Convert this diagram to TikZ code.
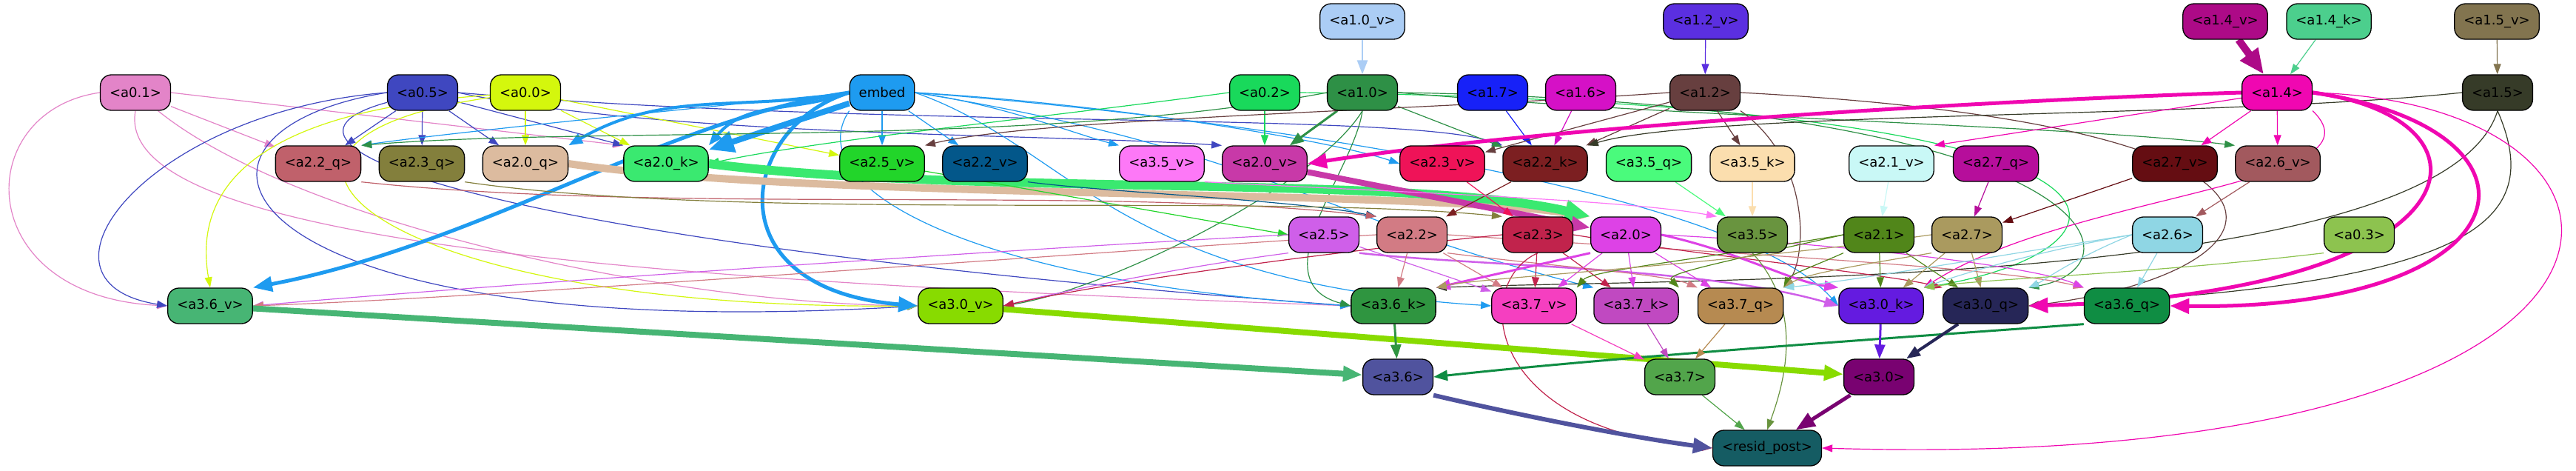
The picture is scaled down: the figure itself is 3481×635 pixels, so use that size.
\documentclass[tikz,border=0pt]{standalone}
\usepackage{fontspec}
\setmainfont{DejaVu Sans}
\usepackage{tikz}
\usetikzlibrary{arrows.meta,backgrounds}
% node fills (edges take the colour of their source)
\definecolor{a10v}{HTML}{ABCDF5}
\definecolor{a12v}{HTML}{5B2FE0}
\definecolor{a14v}{HTML}{AD0A87}
\definecolor{a14k}{HTML}{4CCF8D}
\definecolor{a15v}{HTML}{82744F}
\definecolor{a01}{HTML}{E384C8}
\definecolor{a05}{HTML}{3F47C0}
\definecolor{a00}{HTML}{D4F70D}
\definecolor{embed}{HTML}{1E9BF0}
\definecolor{a02}{HTML}{19D95B}
\definecolor{a10}{HTML}{2E9046}
\definecolor{a17}{HTML}{1721F8}
\definecolor{a16}{HTML}{D511C6}
\definecolor{a12}{HTML}{673F3F}
\definecolor{a14}{HTML}{F007B1}
\definecolor{a15}{HTML}{363B28}
\definecolor{a22q}{HTML}{C0616B}
\definecolor{a23q}{HTML}{837F3C}
\definecolor{a20q}{HTML}{DCBB9F}
\definecolor{a20k}{HTML}{3AE970}
\definecolor{a25v}{HTML}{22D52A}
\definecolor{a22v}{HTML}{03578A}
\definecolor{a35v}{HTML}{FD78F7}
\definecolor{a20v}{HTML}{C839A8}
\definecolor{a23v}{HTML}{EF1358}
\definecolor{a22k}{HTML}{7C1F21}
\definecolor{a35q}{HTML}{4AFB7C}
\definecolor{a35k}{HTML}{FBDEAE}
\definecolor{a21v}{HTML}{C9F8F6}
\definecolor{a27q}{HTML}{B60E9B}
\definecolor{a27v}{HTML}{650D12}
\definecolor{a26v}{HTML}{A2595E}
\definecolor{a25}{HTML}{CF5FE9}
\definecolor{a22}{HTML}{D27B84}
\definecolor{a23}{HTML}{C1234C}
\definecolor{a20}{HTML}{DD42E6}
\definecolor{a35}{HTML}{69943F}
\definecolor{a21}{HTML}{51861A}
\definecolor{a27}{HTML}{AA9A5F}
\definecolor{a26}{HTML}{8FD6E4}
\definecolor{a03}{HTML}{8DC34F}
\definecolor{a36v}{HTML}{47B574}
\definecolor{a30v}{HTML}{88DB00}
\definecolor{a36k}{HTML}{2F9540}
\definecolor{a37v}{HTML}{F53FC0}
\definecolor{a37k}{HTML}{C049C1}
\definecolor{a37q}{HTML}{B68A51}
\definecolor{a30k}{HTML}{641BE0}
\definecolor{a30q}{HTML}{262657}
\definecolor{a36q}{HTML}{0F8D43}
\definecolor{a36}{HTML}{50539E}
\definecolor{a37}{HTML}{52A54B}
\definecolor{a30}{HTML}{790271}
\definecolor{resid}{HTML}{155C63}
\newcommand{\unitfont}{\fontsize{18}{20}\selectfont}
\tikzset{
  unit/.style={draw=black,line width=1.3pt,rounded corners=15pt,
               minimum height=48pt,inner xsep=12.5pt,inner ysep=0pt,font=\unitfont},
  ln/.style={-{Triangle[length=14pt,width=10pt]},line width=1.2pt},
  lnm/.style={-{Triangle[length=19pt,width=14pt]},line width=3pt},
  lnb/.style={-{Triangle[length=26pt,width=20pt]},line width=6pt},
  lnh/.style={-{Triangle[length=34pt,width=28pt]},line width=10pt},
}

\begin{document}
\begin{tikzpicture}[x=1pt,y=1pt]
  \useasboundingbox (0,0) rectangle (3481,-635);

  % row 1
  \node[unit,fill=a10v] (a10v) at (1841,-29) {<a1.0\_v>};
  \node[unit,fill=a12v] (a12v) at (2305,-29) {<a1.2\_v>};
  \node[unit,fill=a14v] (a14v) at (3007,-29) {<a1.4\_v>};
  \node[unit,fill=a14k] (a14k) at (3147,-29) {<a1.4\_k>};
  \node[unit,fill=a15v] (a15v) at (3374,-29) {<a1.5\_v>};
  % row 2
  \node[unit,fill=a01]   (a01)   at (183,-125)  {<a0.1>};
  \node[unit,fill=a05]   (a05)   at (571,-125)  {<a0.5>};
  \node[unit,fill=a00]   (a00)   at (710,-125)  {<a0.0>};
  \node[unit,fill=embed] (embed) at (1192,-125) {embed};
  \node[unit,fill=a02]   (a02)   at (1709,-125) {<a0.2>};
  \node[unit,fill=a10]   (a10)   at (1841,-125) {<a1.0>};
  \node[unit,fill=a17]   (a17)   at (2017,-125) {<a1.7>};
  \node[unit,fill=a16]   (a16)   at (2136,-125) {<a1.6>};
  \node[unit,fill=a12]   (a12)   at (2304,-125) {<a1.2>};
  \node[unit,fill=a14]   (a14)   at (3077,-125) {<a1.4>};
  \node[unit,fill=a15]   (a15)   at (3375,-125) {<a1.5>};
  % row 3
  \node[unit,fill=a22q] (a22q) at (430,-221)  {<a2.2\_q>};
  \node[unit,fill=a23q] (a23q) at (570,-221)  {<a2.3\_q>};
  \node[unit,fill=a20q] (a20q) at (710,-221)  {<a2.0\_q>};
  \node[unit,fill=a20k] (a20k) at (900,-221)  {<a2.0\_k>};
  \node[unit,fill=a25v] (a25v) at (1192,-221) {<a2.5\_v>};
  \node[unit,fill=a22v] (a22v) at (1331,-221) {<a2.2\_v>};
  \node[unit,fill=a35v] (a35v) at (1570,-221) {<a3.5\_v>};
  \node[unit,fill=a20v] (a20v) at (1709,-221) {<a2.0\_v>};
  \node[unit,fill=a23v] (a23v) at (1949,-221) {<a2.3\_v>};
  \node[unit,fill=a22k] (a22k) at (2088,-221) {<a2.2\_k>};
  \node[unit,fill=a35q] (a35q) at (2228,-221) {<a3.5\_q>};
  \node[unit,fill=a35k] (a35k) at (2368,-221) {<a3.5\_k>};
  \node[unit,fill=a21v] (a21v) at (2556,-221) {<a2.1\_v>};
  \node[unit,fill=a27q] (a27q) at (2697,-221) {<a2.7\_q>};
  \node[unit,fill=a27v] (a27v) at (2939,-221) {<a2.7\_v>};
  \node[unit,fill=a26v] (a26v) at (3078,-221) {<a2.6\_v>};
  % row 4
  \node[unit,fill=a25] (a25) at (1789,-317) {<a2.5>};
  \node[unit,fill=a22] (a22) at (1908,-317) {<a2.2>};
  \node[unit,fill=a23] (a23) at (2078,-317) {<a2.3>};
  \node[unit,fill=a20] (a20) at (2197,-317) {<a2.0>};
  \node[unit,fill=a35] (a35) at (2368,-317) {<a3.5>};
  \node[unit,fill=a21] (a21) at (2539,-317) {<a2.1>};
  \node[unit,fill=a27] (a27) at (2658,-317) {<a2.7>};
  \node[unit,fill=a26] (a26) at (2929,-317) {<a2.6>};
  \node[unit,fill=a03] (a03) at (3188,-317) {<a0.3>};
  % row 5
  \node[unit,fill=a36v] (a36v) at (284,-413)  {<a3.6\_v>};
  \node[unit,fill=a30v] (a30v) at (1298,-413) {<a3.0\_v>};
  \node[unit,fill=a36k] (a36k) at (1883,-413) {<a3.6\_k>};
  \node[unit,fill=a37v] (a37v) at (2073,-413) {<a3.7\_v>};
  \node[unit,fill=a37k] (a37k) at (2211,-413) {<a3.7\_k>};
  \node[unit,fill=a37q] (a37q) at (2352,-413) {<a3.7\_q>};
  \node[unit,fill=a30k] (a30k) at (2542,-413) {<a3.0\_k>};
  \node[unit,fill=a30q] (a30q) at (2683,-413) {<a3.0\_q>};
  \node[unit,fill=a36q] (a36q) at (2874,-413) {<a3.6\_q>};
  % rows 6, 7
  \node[unit,fill=a36] (a36) at (1889,-509) {<a3.6>};
  \node[unit,fill=a37] (a37) at (2270,-509) {<a3.7>};
  \node[unit,fill=a30] (a30) at (2539,-509) {<a3.0>};
  \node[unit,fill=resid] (resid) at (2388,-605) {<resid\_post>};

  \begin{scope}[on background layer]
  \fill[white] (0,0) rectangle (3481,-635);
  % inputs of layer 1
  \draw[lnm,a10v,line width=2.5pt] (a10v) -- (a10);
  \draw[ln,a12v] (a12v) -- (a12);
  \draw[lnh,a14v] (a14v) -- (a14);
  \draw[ln,a14k] (a14k) -- (a14);
  \draw[ln,a15v] (a15v) -- (a15);

  % a0.1
  \draw[ln,a01] (a01) -- (a22q);
  \draw[ln,a01] (a01.east) -- (a20k.north west);
  \draw[ln,a01] (a01.west) .. controls (-40,-150) and (-40,-400) .. (a36v.west);
  \draw[ln,a01] (a01.south) .. controls (150,-330) and (900,-380) .. (a36k.west);
  \draw[ln,a01] (a01) .. controls (400,-300) and (900,-410) .. (a30v.west);
  % a0.5
  \draw[ln,a05] (a05) -- (a22q);
  \draw[ln,a05] (a05) -- (a23q);
  \draw[ln,a05] (a05) -- (a20q);
  \draw[ln,a05] (a05) -- (a20k.north west);
  \draw[ln,a05] (a05.east) .. controls (900,-185) and (1400,-180) .. (a20v.north west);
  \draw[ln,a05] (a05.east) .. controls (1200,-175) and (1900,-150) .. (a22k.north west);
  \draw[ln,a05] (a05.west) .. controls (200,-150) and (20,-380) .. (a36v.west);
  \draw[ln,a05] (a05.west) .. controls (180,-180) and (300,-470) .. (a30v.west);
  \draw[ln,a05] (a05) .. controls (300,-200) and (700,-330) .. (a36k.west);
  % a0.0
  \draw[ln,a00] (a00) -- (a20q);
  \draw[ln,a00] (a00) -- (a20k);
  \draw[ln,a00] (a00) -- (a25v);
  \draw[ln,a00] (a00) .. controls (350,-150) and (260,-250) .. (a36v.north);
  \draw[ln,a00] (a00) .. controls (250,-190) and (500,-420) .. (a30v.west);
  % embed
  \draw[lnm,embed,line width=4pt] (embed.west) to[out=190,in=30] (a20q.north east);
  \draw[lnm,embed,line width=4pt] (embed.west) to[out=200,in=50] (a20k.north east);
  \draw[lnh,embed,line width=8pt] (embed) -- (a20k);
  \draw[lnb,embed,line width=5pt] (embed.west) .. controls (900,-160) and (650,-330) .. (a36v.north east);
  \draw[lnb,embed,line width=5pt] (embed.west) .. controls (1000,-170) and (960,-390) .. (a30v.west);
  \draw[ln,embed] (embed.west) .. controls (900,-150) and (600,-180) .. (a22q.north east);
  \draw[ln,embed] (embed) -- (a25v);
  \draw[ln,embed] (embed) -- (a22v);
  \draw[ln,embed] (embed.east) .. controls (1350,-140) and (1450,-180) .. (a35v.north west);
  \draw[ln,embed] (embed.east) .. controls (1500,-140) and (1800,-190) .. (a23v.west);
  \draw[ln,embed] (embed.south west) .. controls (1080,-250) and (1300,-380) .. (a36k.west);
  \draw[ln,embed] (embed.east) .. controls (1450,-200) and (1500,-380) .. (a37v.west);
  \draw[ln,embed] (embed.east) .. controls (1700,-200) and (1800,-300) .. (a37k.north west);
  \draw[ln,embed] (embed.east) .. controls (1700,-160) and (2350,-260) .. (a30k.west);
  % a0.2
  \draw[ln,a02] (a02) -- (a20v);
  \draw[ln,a02] (a02.west) .. controls (1400,-160) and (1100,-190) .. (a20k.east);
  \draw[ln,a02] (a02.east) .. controls (3000,-140) and (2900,-340) .. (a30k.north east);
  % a1.0
  \draw[lnm,a10] (a10) -- (a20v);
  \draw[ln,a10] (a10) -- (a22k);
  \draw[ln,a10] (a10.west) .. controls (1400,-200) and (800,-170) .. (a22q.north east);
  \draw[ln,a10] (a10.east) .. controls (2300,-160) and (2800,-170) .. (a26v.north west);
  \draw[ln,a10] (a10.south) .. controls (1830,-230) and (1700,-380) .. (a36k.west);
  \draw[ln,a10] (a10.south) .. controls (1780,-250) and (1500,-390) .. (a30v.east);
  \draw[ln,a10] (a10.east) .. controls (2850,-140) and (2900,-360) .. (a30q.north east);
  % a1.7, a1.6, a1.2
  \draw[ln,a17] (a17) -- (a22k);
  \draw[ln,a16] (a16) -- (a22k);
  \draw[ln,a12] (a12) -- (a35k);
  \draw[ln,a12] (a12) -- (a22k);
  \draw[ln,a12] (a12) -- (a23v);
  \draw[ln,a12] (a12.west) .. controls (1900,-150) and (1400,-160) .. (a25v.north east);
  \draw[ln,a12] (a12.east) .. controls (3200,-170) and (3100,-370) .. (a30q.east);
  \draw[ln,a12] (a12.south east) .. controls (2450,-220) and (2440,-350) .. (a37q.north east);
  % a1.5
  \draw[ln,a15] (a15.west) .. controls (3000,-160) and (2300,-150) .. (a22k.north east);
  \draw[ln,a15] (a15.south) .. controls (3300,-390) and (2300,-375) .. (a36k.north east);
  \draw[ln,a15] (a15.south) .. controls (3440,-300) and (3350,-385) .. (a30q.east);
  % a1.4
  \draw[lnb,a14,line width=5pt] (a14.west) .. controls (2700,-135) and (2100,-170) .. (a20v.east);
  \draw[ln,a14] (a14) -- (a27v);
  \draw[ln,a14] (a14) -- (a26v);
  \draw[ln,a14] (a14) -- (a21v.north east);
  \draw[lnb,a14,line width=5pt] (a14.east) .. controls (3390,-160) and (3360,-395) .. (a30q.east);
  \draw[lnb,a14,line width=5pt] (a14.east) .. controls (3470,-175) and (3420,-420) .. (a36q.east);
  \draw[ln,a14] (a14.east) .. controls (3650,-140) and (3650,-640) .. (resid.east);
  \draw[ln,a14] (a14.south east) .. controls (3230,-250) and (2800,-260) .. (a30k.north east);

  % q, k, v into layer 2
  \draw[lnh,a20q] (a20q.east) .. controls (1100,-270) and (1900,-255) .. (a20.north west);
  \draw[lnh,a20k,line width=12pt] (a20k.east) .. controls (1300,-265) and (1900,-235) .. (a20.north west);
  \draw[lnb,a20v,line width=8pt] (a20v) -- (a20);
  \draw[ln,a25v] (a25v) -- (a25.west);
  \draw[ln,a22v] (a22v.south east) .. controls (1500,-260) and (1750,-270) .. (a22.north west);
  \draw[ln,a22q] (a22q.south east) .. controls (900,-290) and (1500,-250) .. (a22.north west);
  \draw[ln,a23q] (a23q.south east) .. controls (1000,-300) and (1700,-260) .. (a23.north west);
  \draw[ln,a23v] (a23v) -- (a23);
  \draw[ln,a22k] (a22k) -- (a22);
  \draw[ln,a35q] (a35q) -- (a35);
  \draw[ln,a35k,line width=2pt] (a35k) -- (a35);
  \draw[ln,a35v] (a35v.south east) .. controls (1900,-260) and (2200,-270) .. (a35.north west);
  \draw[ln,a21v] (a21v) -- (a21);
  \draw[ln,a27q] (a27q) -- (a27);
  \draw[ln,a27v] (a27v) -- (a27);
  \draw[ln,a26v] (a26v) -- (a26);

  % layer 2 into layer 3
  \draw[ln,a25] (a25.west) .. controls (1300,-340) and (600,-390) .. (a36v.east);
  \draw[ln,a25] (a25.south west) .. controls (1600,-360) and (1450,-390) .. (a30v.east);
  \draw[ln,a25] (a25) -- (a37v);
  \draw[lnm,a25,line width=2.5pt] (a25.south east) .. controls (2000,-360) and (2300,-360) .. (a30k.west);
  \draw[ln,a22] (a22) -- (a36k);
  \draw[ln,a22] (a22.west) .. controls (1400,-345) and (700,-400) .. (a36v.east);
  \draw[ln,a22] (a22) -- (a37v);
  \draw[ln,a22] (a22.south east) .. controls (2100,-360) and (2250,-370) .. (a37q.north west);
  \draw[ln,a22] (a22.east) .. controls (2300,-340) and (2700,-360) .. (a36q.north west);
  \draw[ln,a23] (a23.west) .. controls (1800,-340) and (1500,-380) .. (a30v.east);
  \draw[ln,a23] (a23) -- (a37v);
  \draw[ln,a23] (a23) -- (a37k);
  \draw[ln,a23] (a23.east) .. controls (2300,-345) and (2550,-370) .. (a30q.north west);
  \draw[ln,a23] (a23.south) .. controls (1990,-380) and (2000,-580) .. (resid.west);
  \draw[lnm,a20] (a20.south west) -- (a36k.north east);
  \draw[ln,a20] (a20) -- (a37v);
  \draw[ln,a20] (a20) -- (a37k);
  \draw[ln,a20] (a20) -- (a37q);
  \draw[lnm,a20] (a20.east) .. controls (2350,-340) and (2420,-380) .. (a30k.north west);
  \draw[ln,a20] (a20.east) .. controls (2500,-330) and (2750,-360) .. (a36q.north west);
  \draw[ln,a35] (a35.south) .. controls (2440,-420) and (2410,-520) .. (resid.north);
  \draw[ln,a21] (a21) -- (a30k);
  \draw[ln,a21] (a21) -- (a30q);
  \draw[ln,a21] (a21.south west) .. controls (2450,-360) and (2420,-370) .. (a37q.north east);
  \draw[ln,a21] (a21.west) .. controls (2300,-360) and (2250,-370) .. (a37k.north east);
  \draw[ln,a21] (a21.west) .. controls (2300,-350) and (2150,-365) .. (a37v.north east);
  \draw[ln,a27] (a27) -- (a30k);
  \draw[ln,a27] (a27) -- (a30q);
  \draw[ln,a27] (a27.south west) .. controls (2500,-360) and (2440,-370) .. (a37q.north east);
  \draw[ln,a27] (a27.west) .. controls (2300,-360) and (2000,-375) .. (a36k.north east);
  \draw[ln,a26] (a26) -- (a36q);
  \draw[ln,a26] (a26.west) .. controls (2800,-350) and (2760,-380) .. (a30q.north east);
  \draw[ln,a26] (a26.west) .. controls (2700,-345) and (2500,-380) .. (a37q.north east);
  \draw[ln,a26] (a26.west) .. controls (2750,-340) and (2650,-370) .. (a30k.north east);
  \draw[ln,a03] (a03.south west) .. controls (2900,-370) and (2700,-375) .. (a30k.north east);

  % q, k, v into layer 3
  \draw[lnb,a36v,line width=8pt] (a36v) -- (a36);
  \draw[lnb,a30v,line width=8pt] (a30v) -- (a30);
  \draw[lnm,a36k] (a36k) -- (a36);
  \draw[lnm,a36q] (a36q.south west) .. controls (2650,-450) and (2200,-480) .. (a36.east);
  \draw[lnm,a30k] (a30k) -- (a30);
  \draw[lnm,a30q,line width=4pt] (a30q) -- (a30);
  \draw[ln,a37v] (a37v) -- (a37);
  \draw[ln,a37k] (a37k) -- (a37);
  \draw[ln,a37q] (a37q) -- (a37);

  % into resid_post
  \draw[lnb,a36] (a36.south east) .. controls (2050,-560) and (2200,-590) .. (resid.west);
  \draw[lnb,a30,line width=5pt] (a30) -- (resid);
  \draw[ln,a37] (a37) -- (resid);
  \end{scope}
\end{tikzpicture}
\end{document}
